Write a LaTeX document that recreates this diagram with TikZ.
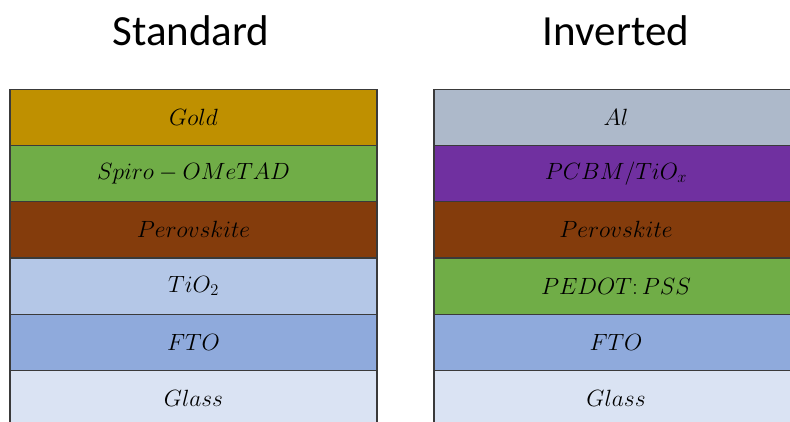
\documentclass[tikz,border=0pt]{standalone}
\usepackage{fix-cm}
\usepackage{fontspec}
\newfontfamily\titlefont{Carlito}
\definecolor{cgold}{HTML}{BF9000}
\definecolor{cgreen}{HTML}{70AD47}
\definecolor{cbrown}{HTML}{843C0C}
\definecolor{ctio}{HTML}{B4C7E7}
\definecolor{cfto}{HTML}{8FAADC}
\definecolor{cglass}{HTML}{DAE3F3}
\definecolor{cal}{HTML}{ADB9CA}
\definecolor{cpurple}{HTML}{7030A0}
\definecolor{cline}{HTML}{3A3A3A}
\tikzset{
  layer/.style={draw=cline, line width=1.1pt, minimum height=56.3pt, inner sep=0pt, outer sep=0pt, text=black, font=\fontsize{23.5}{28}\selectfont},
  leftlayer/.style={layer, minimum width=367pt},
  rightlayer/.style={layer, minimum width=364pt},
  title/.style={font=\titlefont\fontsize{43}{50}\selectfont, inner sep=0pt, anchor=base}
}
\begin{document}
\begin{tikzpicture}[x=1pt,y=-1pt]
\useasboundingbox (0,0) rectangle (790,421);
\clip (0,0) rectangle (790,421);
\node[title] (tstd) at (191,45) {Standard};
\node[title] (tinv) at (616,45) {Inverted};
% Standard stack
\node[leftlayer, fill=cgold]  (gold)  at (193.5,117.2) {$Gold$};
\node[leftlayer, fill=cgreen] (spiro) at (193.5,173.5) {$Spiro-OMeTAD$};
\node[leftlayer, fill=cbrown] (perl)  at (193.5,229.8) {$Perovskite$};
\node[leftlayer, fill=ctio]   (tio)   at (193.5,286.1) {$TiO_2$};
\node[leftlayer, fill=cfto]   (ftol)  at (193.5,342.4) {$FTO$};
\node[leftlayer, fill=cglass] (glassl) at (193.5,398.7) {$Glass$};
% Inverted stack
\node[rightlayer, fill=cal]     (al)    at (616,117.2) {$Al$};
\node[rightlayer, fill=cpurple] (pcbm)  at (616,173.5) {$PCBM/TiO_x$};
\node[rightlayer, fill=cbrown]  (perr)  at (616,229.8) {$Perovskite$};
\node[rightlayer, fill=cgreen]  (pedot) at (616,286.1) {$PEDOT\colon PSS$};
\node[rightlayer, fill=cfto]    (ftor)  at (616,342.4) {$FTO$};
\node[rightlayer, fill=cglass]  (glassr) at (616,398.7) {$Glass$};
\end{tikzpicture}
\end{document}
